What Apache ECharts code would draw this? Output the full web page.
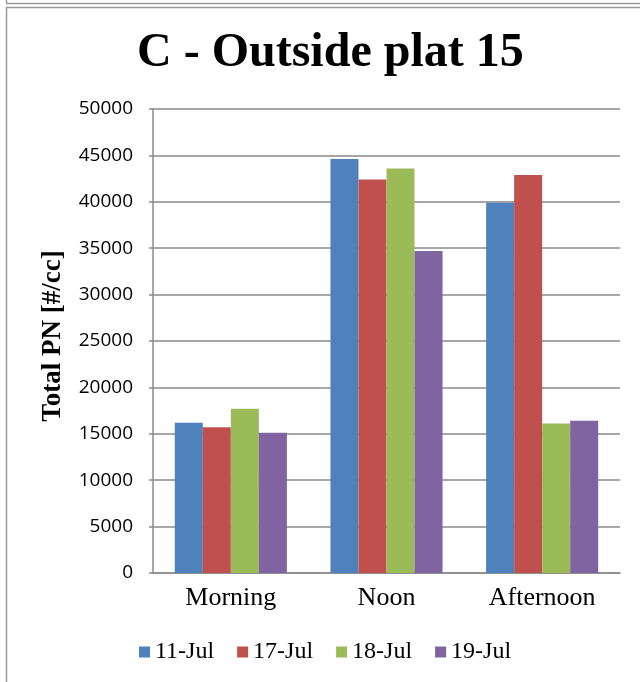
<!DOCTYPE html>
<html>
<head>
<meta charset="utf-8">
<script src="https://cdn.jsdelivr.net/npm/echarts@6/dist/echarts.min.js"></script>
<style>html,body{margin:0;padding:0;background:#fff}#c{width:640px;height:682px}</style>
</head>
<body>
<div id="c"></div>
<script>
var categories = ['Morning', 'Noon', 'Afternoon'];
var seriesNames = ['11-Jul', '17-Jul', '18-Jul', '19-Jul'];
var jul11 = [16200, 44600, 39900];
var jul17 = [15700, 42400, 42900];
var jul18 = [17700, 43600, 16100];
var jul19 = [15100, 34700, 16400];
var colors = ['#4F81BD', '#C0504D', '#9BBB59', '#8064A2'];
var titleText = 'C - Outside plat 15';
var yName = 'Total PN [#/cc]';

var values = [jul11, jul17, jul18, jul19];
var chart = echarts.init(document.getElementById('c'));
var serif = '"Liberation Serif", "Times New Roman", serif';
var gridColor = '#8a8a8a';
chart.setOption({
  animation: false,
  backgroundColor: '#fff',
  color: colors,
  title: {
    text: titleText,
    left: 137, top: 30, padding: 0,
    textStyle: { fontFamily: serif, fontWeight: 'bold', fontSize: 48, color: '#000' }
  },
  legend: {
    data: seriesNames,
    left: 139, top: 640,
    padding: 0,
    itemWidth: 11, itemHeight: 11, itemGap: 23,
    icon: 'rect',
    textStyle: { fontFamily: serif, fontSize: 24, color: '#000', padding: [0, 0, 0, 0] }
  },
  grid: { left: 153, right: 20, top: 109, bottom: 109, containLabel: false },
  xAxis: {
    type: 'category',
    data: categories,
    axisLine: { lineStyle: { color: gridColor, width: 1.5 } },
    axisTick: { show: false },
    axisLabel: { fontFamily: serif, fontSize: 26, color: '#000', margin: 12 }
  },
  yAxis: {
    type: 'value',
    min: 0, max: 50000, interval: 5000,
    name: yName,
    nameLocation: 'middle',
    nameGap: 86,
    nameTextStyle: { fontFamily: serif, fontWeight: 'bold', fontSize: 27, color: '#000', padding: [0, 0, 0, 10] },
    axisLine: { show: true, lineStyle: { color: gridColor, width: 1.5 } },
    axisTick: { show: true, length: 4, lineStyle: { color: gridColor, width: 1.5 } },
    splitLine: { lineStyle: { color: gridColor, width: 1.5 } },
    axisLabel: {
      fontFamily: '"Open Sans", sans-serif', fontSize: 19, color: '#000', margin: 20,
      formatter: function (v) { return String(v); }
    }
  },
  graphic: [
    { type: 'line', shape: { x1: 6.5, y1: 0, x2: 6.5, y2: 3 }, style: { stroke: '#999', lineWidth: 1.5 } },
    { type: 'line', shape: { x1: 6, y1: 3.5, x2: 640, y2: 3.5 }, style: { stroke: '#999', lineWidth: 1.5 } },
    { type: 'line', shape: { x1: 6, y1: 7.5, x2: 640, y2: 7.5 }, style: { stroke: '#999', lineWidth: 1.5 } },
    { type: 'line', shape: { x1: 6.5, y1: 7, x2: 6.5, y2: 682 }, style: { stroke: '#999', lineWidth: 1.5 } }
  ],
  series: seriesNames.map(function (n, i) {
    return {
      name: n, type: 'bar', data: values[i],
      barGap: '0%', barCategoryGap: '28%',
      itemStyle: { color: colors[i] }
    };
  })
});
</script>
</body>
</html>
